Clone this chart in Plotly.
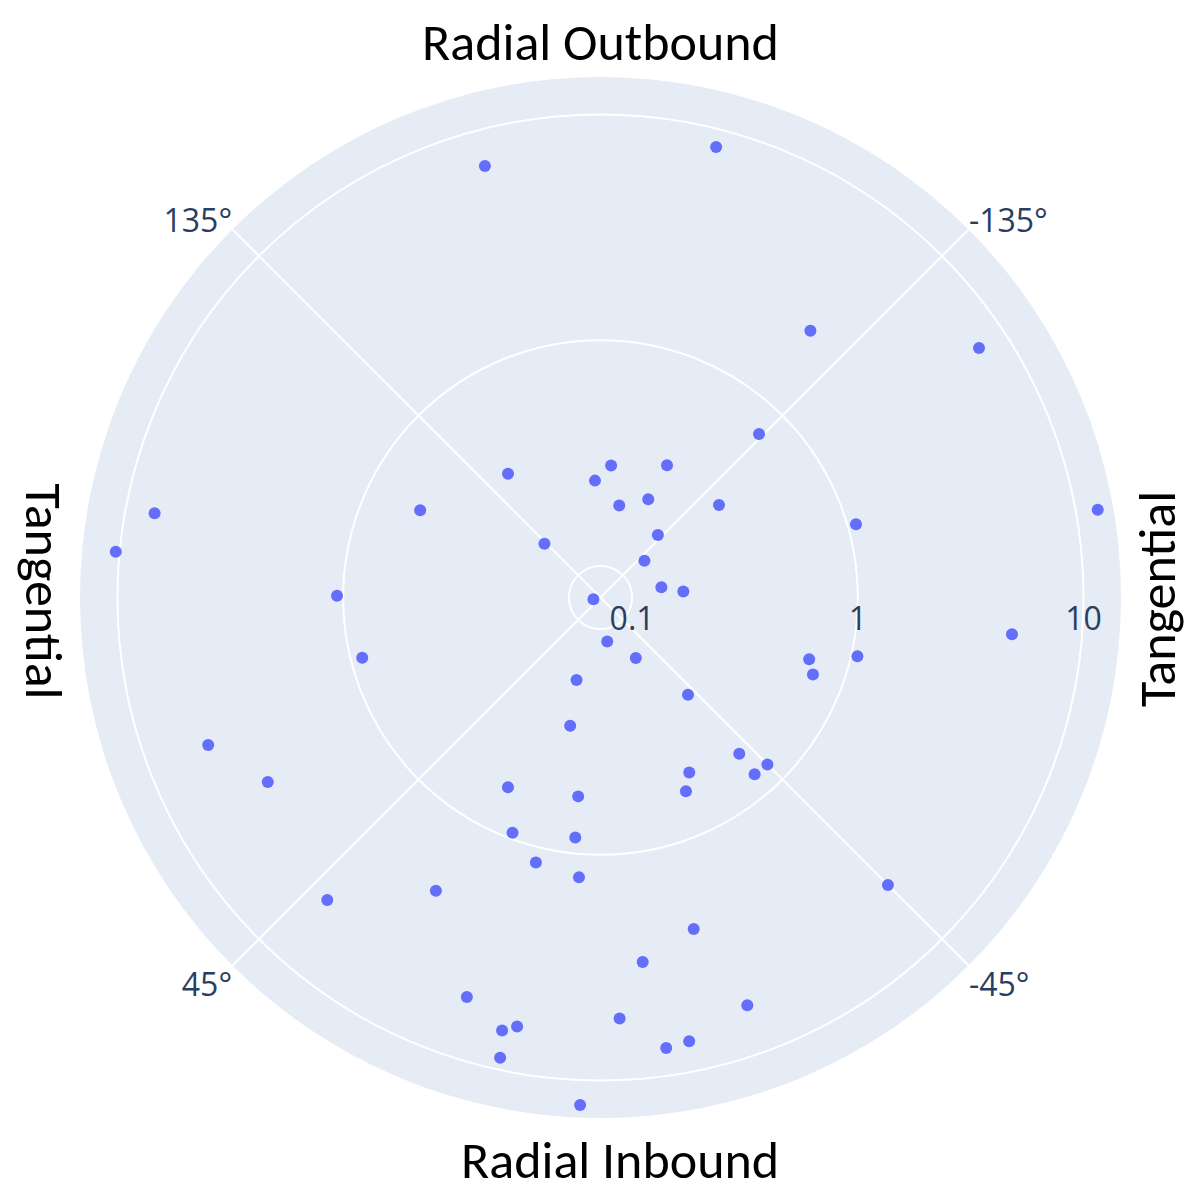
import plotly.graph_objects as go

# Direction of each point (degrees, 0 = radial inbound, clockwise) and its magnitude (log scale)
theta_deg = [165, -165.6, -141.8, -123.4, -135.9, 143.2, -175.4, -153.3, 177.3, -168.5,
             -154.1, -128.0, -106.0, -100.0, 100.7, 115.8, 95.4, 133.8, -137.4, -130.0,
             -99.6, -94.1, 76.9, 90.4, -8.7, -30.3, 75.8, -73.5, -77.1, -70.1,
             -84.9, 16.2, -42.0, 13.3, -41.6, -45.0, -41.1, -26.9, -23.8, 26.0,
             6.4, 69.4, 61.0, 20.5, 6.0, 13.7, 4.4, 29.3, 42.1, -45.0,
             -15.7, -6.6, 18.5, -19.8, -2.6, 12.8, 11.0, -11.3, -8.3, 12.3,
             2.3]
r_values = [6.90, 8.32, 2.31, 7.39, 0.740, 0.350, 0.280, 0.328, 0.239, 0.189,
            0.221, 0.336, 1.09, 12.5, 7.42, 0.559, 10.4, 0.160, 0.172, 0.130,
            0.136, 0.169, 0.078, 1.065, 0.114, 0.148, 0.889, 0.667, 1.066, 0.726,
            4.90, 0.174, 0.275, 0.278, 0.611, 0.805, 0.792, 0.536, 0.628, 0.624,
            0.558, 5.21, 3.51, 0.940, 0.849, 1.171, 1.267, 2.24, 4.63, 4.58,
            2.43, 3.06, 5.32, 6.03, 5.33, 6.72, 6.26, 7.33, 7.53, 8.86,
            12.9]

angle_ticks = [45, 135, 225, 315]
angle_labels = ['45°', '135°', '-135°', '-45°']
radial_ticks = [0.1, 1, 10]

label_font = dict(family='Calibri, Carlito, Lato, sans-serif', size=52, color='black')

fig = go.Figure()
fig.add_trace(go.Scatterpolar(
    r=r_values,
    theta=theta_deg,
    mode='markers',
    marker=dict(color='#636efa', size=12),
))

# page body has an 8px margin, so the margins are shifted to keep the circle centred
fig.update_layout(
    width=1196,
    height=1190,
    margin=dict(l=72, r=83, t=69, b=80),
    paper_bgcolor='white',
    showlegend=False,
    font=dict(family='Open Sans', color='#2a3f5f'),
    polar=dict(
        bgcolor='#E5ECF6',
        angularaxis=dict(
            rotation=-90,
            direction='clockwise',
            tickmode='array',
            tickvals=angle_ticks,
            ticktext=angle_labels,
            tickfont=dict(size=32),
            gridcolor='white',
            gridwidth=1.5,
            showline=False,
            ticks='',
        ),
        radialaxis=dict(
            type='log',
            range=[-1.14, 1.166],
            tickmode='array',
            tickvals=radial_ticks,
            ticktext=[str(v) for v in radial_ticks],
            tickfont=dict(size=32),
            gridcolor='white',
            gridwidth=1.5,
            showline=False,
            ticks='',
        ),
    ),
    annotations=[
        dict(text='Radial Outbound', x=0.5, y=1.0335, xref='paper', yref='paper',
             showarrow=False, font=label_font, xanchor='center', yanchor='middle'),
        dict(text='Radial Inbound', x=0.519, y=-0.0403, xref='paper', yref='paper',
             showarrow=False, font=label_font, xanchor='center', yanchor='middle'),
        dict(text='Tangential', x=-0.0355, y=0.5058, xref='paper', yref='paper',
             showarrow=False, font=label_font, textangle=90, xanchor='center', yanchor='middle'),
        dict(text='Tangential', x=1.0346, y=0.4986, xref='paper', yref='paper',
             showarrow=False, font=label_font, textangle=-90, xanchor='center', yanchor='middle'),
    ],
)

fig.write_html('out.html')
